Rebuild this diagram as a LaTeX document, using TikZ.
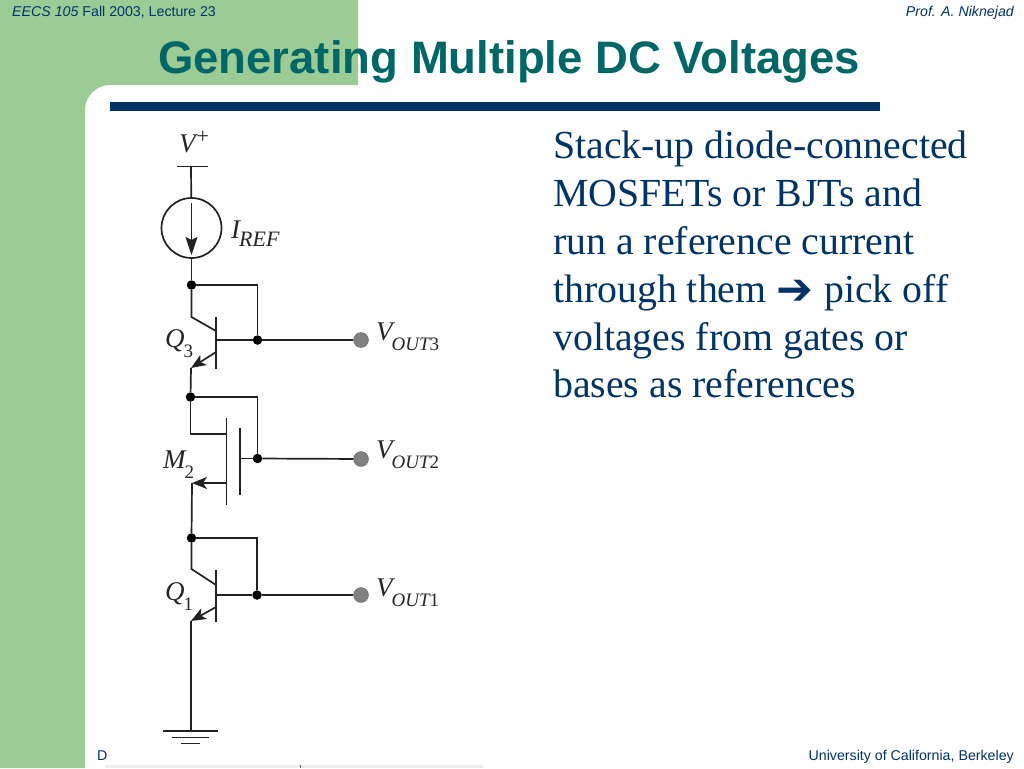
\documentclass[tikz,border=0pt]{standalone}
\usepackage{fontspec}
\setmainfont{Liberation Serif}
\newfontfamily\slidesans{Liberation Sans}
\newfontfamily\arrowfont{DejaVu Sans}
\usetikzlibrary{arrows.meta}
\definecolor{slidegreen}{HTML}{9CCC96}
\definecolor{slidenavy}{HTML}{003366}
\definecolor{slideteal}{HTML}{006666}
\definecolor{wireink}{HTML}{222222}
\newcommand{\SubLabel}[3]{\itshape #1\kern-1pt\raisebox{-10.5pt}{\fontsize{19}{19}\selectfont #2\upshape #3}}
\begin{document}
\begin{tikzpicture}
    [x=1pt, y=-1pt,
    Wire/.style={draw=wireink, line width=1.7pt},
    Bar/.style={draw=wireink, line width=1.5pt},
    FlowTip/.style={-{Stealth[length=15pt, width=12pt, inset=4pt]}},
    BigTip/.style={-{Stealth[length=18pt, width=12pt, inset=3pt]}},
    Junction/.style={circle, fill=black, inner sep=0pt, minimum size=9.5pt},
    OutPin/.style={circle, fill=black!50, draw=black!60, inner sep=0pt, minimum size=15pt},
    Source/.style={circle, draw=wireink, line width=1.7pt, inner sep=0pt, minimum size=60pt},
    CircuitLabel/.style={inner sep=0pt, anchor=base west, font=\fontsize{27}{30}\selectfont, text=black!85},
    HeadText/.style={inner sep=0pt, font=\slidesans\fontsize{14.2}{16}\selectfont, text=slidenavy}]
    \useasboundingbox (0, 0) rectangle (1024, 768);
    % slide background
    \fill[white] (0, 0) rectangle (1024, 768);
    \fill[slidegreen] (0, 0) -| (358, 85) -- (110, 85) arc[start angle=90, end angle=180, x radius=25, y radius=-25] |- (0, 768) -- cycle;
    \fill[slidenavy] (110, 102) rectangle (880, 111);
    \fill[black!7] (105, 765) rectangle (483, 768);
    \fill[black!60] (299.5, 765) rectangle (300.5, 768);
    \node[HeadText, anchor=base west] (course) at (12, 17) {\itshape EECS 105 \upshape Fall 2003, Lecture 23};
    \node[HeadText, anchor=base east] (prof) at (1014, 17) {\itshape Prof. A. Niknejad};
    \node[HeadText, anchor=base west] (footl) at (97, 760) {D};
    \node[HeadText, anchor=base east] (footr) at (1014, 760) {University of California, Berkeley};
    \node[inner sep=0pt, anchor=base west, text=slideteal, font=\slidesans\bfseries\fontsize{45.5}{52}\selectfont] (title) at (158, 73) {Generating Multiple DC Voltages};
    \node[inner sep=0pt, anchor=north west, align=left, text=slidenavy, font=\fontsize{39.8}{47.8}\selectfont] (body) at (553, 131)
        {Stack-up diode-connected\\MOSFETs or BJTs and\\run a reference current\\through them {\arrowfont\fontsize{44}{47.8}\selectfont\raisebox{-2pt}{➔}}\kern1pt{} pick off\\voltages from gates or\\bases as references};
    % supply and reference source
    \coordinate (vtop) at (191, 166.5);
    \coordinate (vbarl) at (177, 166.5);
    \coordinate (vbarr) at (208, 166.5);
    \node[Source] (iref) at (191.5, 228) {};
    \coordinate (arrowtop) at (191.5, 203);
    \coordinate (arrowtip) at (191.5, 255);
    \node[CircuitLabel] (vplus) at (179, 152) {\itshape V\kern1pt\raisebox{9pt}{\fontsize{22}{22}\selectfont\upshape +}};
    \node[CircuitLabel] (ireflabel) at (231, 238) {\itshape I\kern-1pt\raisebox{-8pt}{\fontsize{22}{22}\selectfont REF}};
    \draw[Bar] (vbarl) -- (vbarr);
    \draw[Wire] (vtop) -- (iref);
    \draw[Wire, BigTip] (arrowtop) -- (arrowtip);
    % Q3
    \node[Junction] (j3) at (191.5, 285) {};
    \node[Junction] (b3) at (257.5, 340) {};
    \node[OutPin] (out3) at (361, 340) {};
    \coordinate (c3) at (191.5, 317);
    \coordinate (cb3) at (216, 331);
    \coordinate (eb3) at (216, 352);
    \coordinate (e3) at (191, 368);
    \coordinate (base3) at (216, 340);
    \coordinate (bart3) at (216, 317);
    \coordinate (barb3) at (216, 369);
    \draw[Wire] (iref) -- (j3);
    \draw[Wire] (j3) -| (b3);
    \draw[Wire] (j3) -- (c3) -- (cb3);
    \draw[Bar] (bart3) -- (barb3);
    \draw[Wire] (base3) -- (b3);
    \draw[Wire] (b3) -- (out3);
    \draw[Wire, FlowTip] (eb3) -- (e3);
    \node[CircuitLabel] (q3) at (165, 347) {\SubLabel{Q}{}{3}};
    \node[CircuitLabel] (vout3) at (376, 340) {\SubLabel{V}{OUT}{3}};
    % M2
    \node[Junction] (j2) at (190.5, 397) {};
    \node[Junction] (g2) at (257.5, 458.5) {};
    \node[OutPin] (out2) at (361, 459) {};
    \coordinate (d2) at (190.5, 434);
    \coordinate (dc2) at (226.5, 434);
    \coordinate (sc2) at (226.5, 483);
    \coordinate (s2) at (192, 483);
    \coordinate (chant) at (226.5, 418);
    \coordinate (chanb) at (226.5, 505);
    \coordinate (gatet) at (240, 428);
    \coordinate (gateb) at (240, 495);
    \coordinate (gatem) at (240, 458.5);
    \draw[Wire] (e3) -- (j2);
    \draw[Wire] (j2) -| (g2);
    \draw[Wire] (j2) -- (d2) -- (dc2);
    \draw[Bar] (chant) -- (chanb);
    \draw[Bar] (gatet) -- (gateb);
    \draw[Wire] (gatem) -- (g2);
    \draw[Wire] (g2) -- (out2);
    \draw[Wire, FlowTip] (sc2) -- (s2);
    \node[CircuitLabel] (m2) at (163, 468) {\SubLabel{M}{}{2}};
    \node[CircuitLabel] (vout2) at (376, 458) {\SubLabel{V}{OUT}{2}};
    % Q1
    \node[Junction] (j1) at (191.5, 538) {};
    \node[Junction] (b1) at (257, 595) {};
    \node[OutPin] (out1) at (361, 595) {};
    \coordinate (c1) at (191.5, 569);
    \coordinate (cb1) at (216, 585);
    \coordinate (eb1) at (216, 607);
    \coordinate (e1) at (191, 621);
    \coordinate (base1) at (216, 595);
    \coordinate (bart1) at (216, 570);
    \coordinate (barb1) at (216, 622);
    \draw[Wire] (s2) -- (j1);
    \draw[Wire] (j1) -| (b1);
    \draw[Wire] (j1) -- (c1) -- (cb1);
    \draw[Bar] (bart1) -- (barb1);
    \draw[Wire] (base1) -- (b1);
    \draw[Wire] (b1) -- (out1);
    \draw[Wire, FlowTip] (eb1) -- (e1);
    \node[CircuitLabel] (q1) at (165, 600) {\SubLabel{Q}{}{1}};
    \node[CircuitLabel] (vout1) at (376, 596) {\SubLabel{V}{OUT}{1}};
    % ground
    \coordinate (gnd) at (191, 731);
    \coordinate (g1l) at (163, 731);
    \coordinate (g1r) at (218, 731);
    \coordinate (g2l) at (172, 737.5);
    \coordinate (g2r) at (209, 737.5);
    \coordinate (g3l) at (181, 743.5);
    \coordinate (g3r) at (200, 743.5);
    \draw[Wire] (e1) -- (gnd);
    \draw[Bar] (g1l) -- (g1r);
    \draw[Bar] (g2l) -- (g2r);
    \draw[Bar] (g3l) -- (g3r);
    \end{tikzpicture}
\end{document}
